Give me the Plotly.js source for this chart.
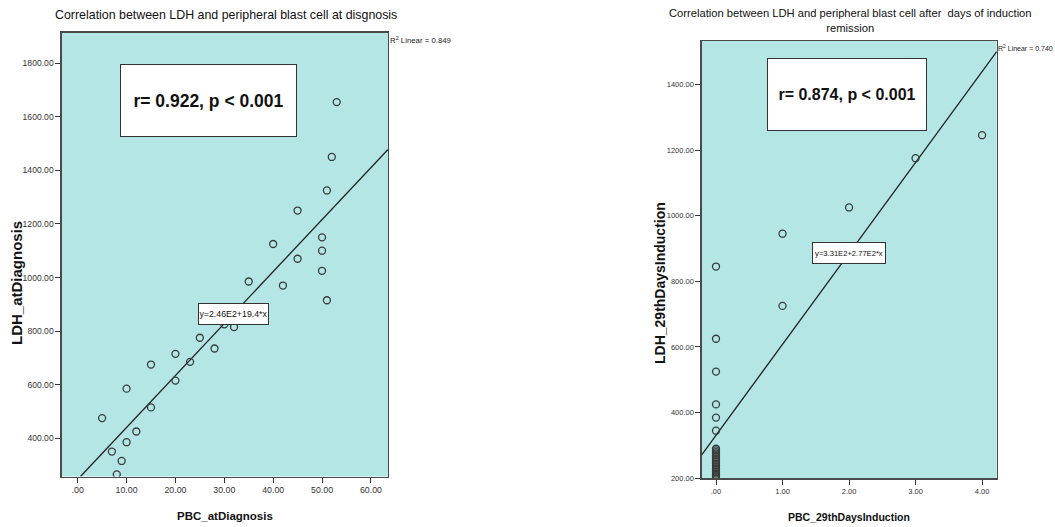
<!DOCTYPE html>
<html>
<head>
<meta charset="utf-8">
<script src="https://cdn.plot.ly/plotly-3.0.1.min.js"></script>
<style>html,body{margin:0;padding:0;background:#fff;}#chart{width:1055px;height:527px;}</style>
</head>
<body>
<div id="chart"></div>
<script>
// ---- Data ----
const pbcDiag = [53, 52, 51, 45, 40, 50, 50, 45, 50, 35, 42, 51, 30, 32, 25, 28, 20, 23, 15, 20, 10, 15, 5, 12, 10, 7, 9, 8];
const ldhDiag = [1655, 1450, 1325, 1250, 1125, 1150, 1100, 1070, 1025, 985, 970, 915, 825, 815, 775, 735, 715, 685, 675, 615, 585, 515, 475, 425, 385, 350, 315, 265];

const pbc29 = [4, 3, 2, 1, 0, 1, 0, 0, 0, 0, 0, 0, 0, 0, 0, 0, 0, 0, 0, 0, 0, 0, 0, 0, 0, 0, 0, 0, 0, 0];
const ldh29 = [1245, 1175, 1025, 945, 845, 725, 625, 525, 425, 385, 345, 290, 285, 280, 275, 270, 265, 260, 255, 250, 245, 240, 235, 230, 225, 220, 215, 210, 205, 200];

// fit lines (intercept, slope) as printed on the chart
const fitDiag = [246, 19.4];
const fit29 = [331, 277];

const xTickValsL = [0, 10, 20, 30, 40, 50, 60];
const xTickTextL = [".00", "10.00", "20.00", "30.00", "40.00", "50.00", "60.00"];
const yTickValsL = [400, 600, 800, 1000, 1200, 1400, 1600, 1800];
const yTickTextL = ["400.00", "600.00", "800.00", "1000.00", "1200.00", "1400.00", "1600.00", "1800.00"];
const xTickValsR = [0, 1, 2, 3, 4];
const xTickTextR = [".00", "1.00", "2.00", "3.00", "4.00"];
const yTickValsR = [200, 400, 600, 800, 1000, 1200, 1400];
const yTickTextR = ["200.00", "400.00", "600.00", "800.00", "1000.00", "1200.00", "1400.00"];

// ---- Layout geometry ----
const W = 1055, H = 527;
const FONT = "Liberation Sans, Arial, sans-serif";
const rangeXL = [-3.27, 63.5], rangeYL = [257, 1914];
const rangeXR = [-0.215, 4.22], rangeYR = [200, 1532];

function px(x) { return x / W; }
function py(y) { return 1 - y / H; }

function fitLine(fit, xr, yr) {
  let x0 = xr[0], x1 = xr[1];
  const f = x => fit[0] + fit[1] * x;
  if (f(x0) < yr[0]) x0 = (yr[0] - fit[0]) / fit[1];
  if (f(x1) > yr[1]) x1 = (yr[1] - fit[0]) / fit[1];
  return { x: [x0, x1], y: [f(x0), f(x1)] };
}
const lineL = fitLine(fitDiag, rangeXL, rangeYL);
const lineR = fitLine(fit29, rangeXR, rangeYR);

const markerStyle = { symbol: "circle-open", size: 7, color: "#3a3a3a", line: { width: 1.3, color: "#3a3a3a" } };

const traces = [
  { x: lineL.x, y: lineL.y, xaxis: "x", yaxis: "y", mode: "lines", line: { color: "#222", width: 1.3 }, hoverinfo: "skip" },
  { x: pbcDiag, y: ldhDiag, xaxis: "x", yaxis: "y", mode: "markers", marker: markerStyle },
  { x: lineR.x, y: lineR.y, xaxis: "x2", yaxis: "y2", mode: "lines", line: { color: "#222", width: 1.3 }, hoverinfo: "skip" },
  { x: pbc29, y: ldh29, xaxis: "x2", yaxis: "y2", mode: "markers", marker: markerStyle }
];

function ax(extra, tsize) {
  return Object.assign({
    showgrid: false, zeroline: false, showline: true, mirror: true,
    linecolor: "#4a4a4a", linewidth: 1.3,
    ticks: "outside", ticklen: 5, tickcolor: "#333", tickwidth: 1,
    tickmode: "array", tickfont: { family: FONT, size: tsize, color: "#333" },
    fixedrange: true
  }, extra);
}

const layout = {
  width: W, height: H,
  margin: { l: 0, r: 0, t: 0, b: 0 },
  paper_bgcolor: "#ffffff",
  plot_bgcolor: "#b4e6e6",
  showlegend: false,
  xaxis: ax({ domain: [px(61.7), px(388)], range: rangeXL, tickvals: xTickValsL, ticktext: xTickTextL, anchor: "y" }, 8.8),
  yaxis: ax({ domain: [py(476.5), py(32.7)], range: rangeYL, tickvals: yTickValsL, ticktext: yTickTextL, anchor: "x" }, 8.6),
  xaxis2: ax({ domain: [px(701.7), px(996.7)], range: rangeXR, tickvals: xTickValsR, ticktext: xTickTextR, anchor: "y2" }, 7.5),
  yaxis2: ax({ domain: [py(478.3), py(41)], range: rangeYR, tickvals: yTickValsR, ticktext: yTickTextR, anchor: "x2" }, 7.5),
  annotations: [
    // titles
    { xref: "paper", yref: "paper", x: px(226), y: py(15), text: "Correlation between LDH and peripheral blast cell at disgnosis", showarrow: false, xanchor: "center", yanchor: "middle", font: { family: FONT, size: 12.4, color: "#111" } },
    { xref: "paper", yref: "paper", x: px(850), y: py(20), text: "Correlation between LDH and peripheral blast cell after  days of induction<br>remission", showarrow: false, xanchor: "center", yanchor: "middle", font: { family: FONT, size: 11.2, color: "#111" } },
    // axis titles
    { xref: "paper", yref: "paper", x: px(225), y: py(516), text: "<b>PBC_atDiagnosis</b>", showarrow: false, xanchor: "center", yanchor: "middle", font: { family: FONT, size: 11.5, color: "#111" } },
    { xref: "paper", yref: "paper", x: px(16), y: py(283), text: "<b>LDH_atDiagnosis</b>", textangle: -90, showarrow: false, xanchor: "center", yanchor: "middle", font: { family: FONT, size: 15, color: "#111" } },
    { xref: "paper", yref: "paper", x: px(849), y: py(517), text: "<b>PBC_29thDaysInduction</b>", showarrow: false, xanchor: "center", yanchor: "middle", font: { family: FONT, size: 10.5, color: "#111" } },
    { xref: "paper", yref: "paper", x: px(660), y: py(283), text: "<b>LDH_29thDaysInduction</b>", textangle: -90, showarrow: false, xanchor: "center", yanchor: "middle", font: { family: FONT, size: 14, color: "#111" } },
    // r boxes
    { xref: "paper", yref: "paper", x: px(208.3), y: py(100.8), text: "<b>r= 0.922, p < 0.001</b>", showarrow: false, xanchor: "center", yanchor: "middle", width: 175, height: 71, bgcolor: "#ffffff", bordercolor: "#333", borderwidth: 1, borderpad: 0, font: { family: FONT, size: 17.5, color: "#111" } },
    { xref: "paper", yref: "paper", x: px(846.7), y: py(94.3), text: "<b>r= 0.874, p < 0.001</b>", showarrow: false, xanchor: "center", yanchor: "middle", width: 158, height: 71, bgcolor: "#ffffff", bordercolor: "#333", borderwidth: 1, borderpad: 0, font: { family: FONT, size: 16, color: "#111" } },
    // equation labels
    { xref: "paper", yref: "paper", x: px(233.7), y: py(313.8), text: "y=2.46E2+19.4*x", showarrow: false, xanchor: "center", yanchor: "middle", width: 69, height: 20, bgcolor: "#ffffff", bordercolor: "#333", borderwidth: 1, borderpad: 0, font: { family: FONT, size: 8.8, color: "#111" } },
    { xref: "paper", yref: "paper", x: px(849.3), y: py(253), text: "y=3.31E2+2.77E2*x", showarrow: false, xanchor: "center", yanchor: "middle", width: 72, height: 20, bgcolor: "#ffffff", bordercolor: "#333", borderwidth: 1, borderpad: 0, font: { family: FONT, size: 7.6, color: "#111" } },
    // R^2 labels
    { xref: "paper", yref: "paper", x: px(388), y: py(40), text: "R<sup>2</sup> Linear = 0.849", showarrow: false, xanchor: "left", yanchor: "middle", font: { family: FONT, size: 7.8, color: "#222" } },
    { xref: "paper", yref: "paper", x: px(996), y: py(48), text: "R<sup>2</sup> Linear = 0.740", showarrow: false, xanchor: "left", yanchor: "middle", font: { family: FONT, size: 7, color: "#222" } }
  ]
};

Plotly.newPlot("chart", traces, layout, { displayModeBar: false, staticPlot: true });
</script>
</body>
</html>
